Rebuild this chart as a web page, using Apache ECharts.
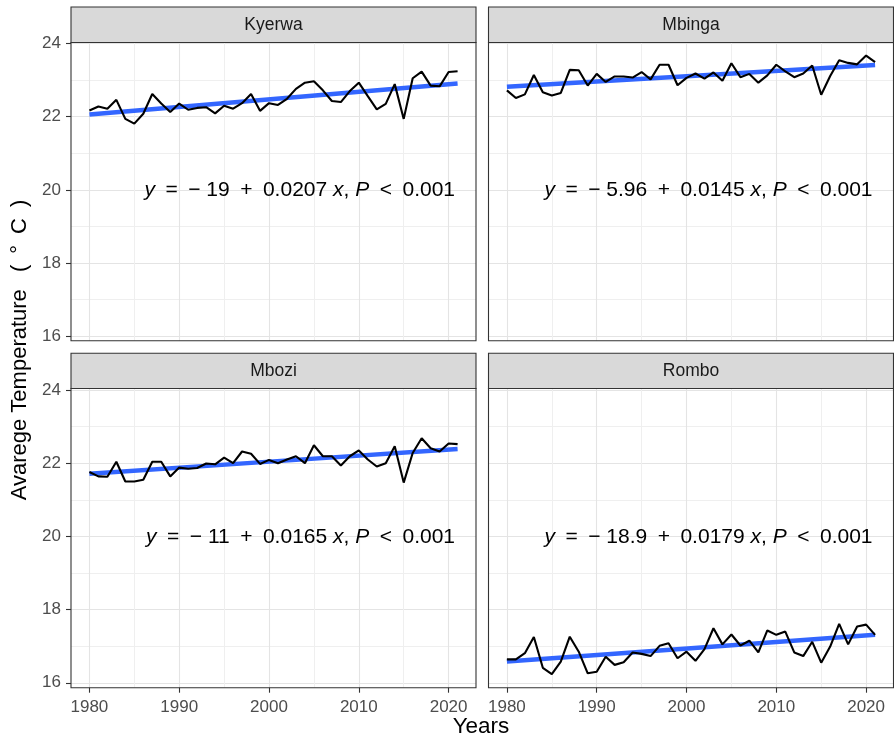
<!DOCTYPE html>
<html><head><meta charset="utf-8">
<script src="https://cdn.jsdelivr.net/npm/echarts@6/dist/echarts.min.js"></script>
<style>html,body{margin:0;padding:0;background:#fff}#c{width:894px;height:741px}</style>
</head><body><div id="c"></div>
<script>
// ---------------- data ----------------
const years = [1980,1981,1982,1983,1984,1985,1986,1987,1988,1989,1990,1991,1992,1993,1994,1995,1996,1997,1998,1999,2000,
               2001,2002,2003,2004,2005,2006,2007,2008,2009,2010,2011,2012,2013,2014,2015,2016,2017,2018,2019,2020,2021];
const sites = ['Kyerwa','Mbinga','Mbozi','Rombo'];
const kyerwa = [22.17,22.28,22.22,22.46,21.94,21.81,22.08,22.62,22.36,22.13,22.36,22.19,22.24,22.26,22.09,22.30,22.22,22.37,22.62,22.16,22.37,
                22.32,22.49,22.76,22.93,22.97,22.72,22.43,22.40,22.70,22.93,22.56,22.20,22.35,22.89,21.94,23.05,23.23,22.85,22.83,23.22,23.24];
const mbinga = [22.72,22.51,22.61,23.14,22.67,22.58,22.65,23.28,23.27,22.85,23.17,22.95,23.10,23.10,23.07,23.22,23.02,23.42,23.42,22.86,23.06,
                23.18,23.04,23.21,22.98,23.46,23.08,23.17,22.93,23.13,23.42,23.24,23.08,23.18,23.40,22.60,23.11,23.54,23.47,23.43,23.67,23.49];
const mbozi  = [21.76,21.64,21.63,22.04,21.50,21.50,21.55,22.04,22.04,21.64,21.88,21.85,21.87,21.99,21.97,22.15,22.00,22.32,22.26,21.98,22.09,
                22.00,22.10,22.19,22.00,22.49,22.19,22.19,21.94,22.19,22.35,22.10,21.91,22.00,22.46,21.47,22.28,22.68,22.41,22.32,22.54,22.52];
const rombo  = [16.64,16.64,16.81,17.25,16.41,16.24,16.58,17.26,16.85,16.26,16.30,16.71,16.49,16.56,16.83,16.79,16.73,17.01,17.08,16.67,16.85,
                16.60,16.92,17.49,17.05,17.32,17.02,17.15,16.83,17.43,17.31,17.40,16.83,16.73,17.12,16.55,16.99,17.61,17.05,17.54,17.59,17.31];
// fitted regression line and confidence band
const fitYears = [1980, 2000.5, 2021];
const kyerwaFit = [22.06, 22.485, 22.91];
const mbingaFit = [22.82, 23.115, 23.41];
const mboziFit  = [21.71, 22.05, 22.39];
const romboFit  = [16.58, 16.945, 17.31];
const kyerwaLow = [21.96, 22.45, 22.81], kyerwaHigh = [22.16, 22.52, 23.01];
const mbingaLow = [22.73, 23.08, 23.32], mbingaHigh = [22.91, 23.15, 23.50];
const mboziLow  = [21.62, 22.015, 22.30], mboziHigh  = [21.80, 22.085, 22.48];
const romboLow  = [16.46, 16.905, 17.19], romboHigh  = [16.70, 16.985, 17.43];
const intercepts = ['− 19', '− 5.96', '− 11', '− 18.9'];
const slopes = ['0.0207', '0.0145', '0.0165', '0.0179'];
const pText = '0.001';
const yTicks = [16, 18, 20, 22, 24];
const xTicks = [1980, 1990, 2000, 2010, 2020];

const obs = [kyerwa, mbinga, mbozi, rombo];
const fits = [kyerwaFit, mbingaFit, mboziFit, romboFit];
const lows = [kyerwaLow, mbingaLow, mboziLow, romboLow];
const highs = [kyerwaHigh, mbingaHigh, mboziHigh, romboHigh];

// ---------------- layout ----------------
const FONT = '"Liberation Sans", Arial, Helvetica, sans-serif';
const X_MIN = 1977.95, X_MAX = 2023.05;
const PX_PER_DEG = 36.6;
const SP = '\u2002';
const panels = [
  {left: 71,    top: 42.5,  width: 405, height: 298.2, y24: 43.5, stripTop: 7,     showY: true,  showX: false, eqY: 190},
  {left: 488.5, top: 42.5,  width: 405, height: 298.2, y24: 43.5, stripTop: 7,     showY: false, showX: false, eqY: 190},
  {left: 71,    top: 388.5, width: 405, height: 299.2, y24: 390,  stripTop: 353.3, showY: true,  showX: true,  eqY: 537},
  {left: 488.5, top: 388.5, width: 405, height: 299.2, y24: 390,  stripTop: 353.3, showY: false, showX: true,  eqY: 537}
];

const grids = [], xAxes = [], yAxes = [], series = [], graphics = [];
const gridMajor = {color: '#E4E4E4', width: 1.1};
const gridMinor = {color: '#EFEFEF', width: 1};
const tickStyle = {color: '#333333', width: 1.1};
const labelStyle = {color: '#4D4D4D', fontSize: 17, fontFamily: FONT};

panels.forEach((p, i) => {
  const yMin = yTicks[0], yMax = yTicks[yTicks.length - 1];
  grids.push({left: p.left, top: p.y24, width: p.width, height: (yMax - yMin) * PX_PER_DEG, show: false, outerBoundsMode: 'none'});
  const vx = p.left + (xTicks[0] - X_MIN) / (X_MAX - X_MIN) * p.width;
  const vw = (xTicks[xTicks.length - 1] - xTicks[0]) / (X_MAX - X_MIN) * p.width;
  grids.push({left: vx, top: p.top, width: vw, height: p.height, show: false, outerBoundsMode: 'none'});

  xAxes.push({type: 'value', gridIndex: 2 * i, min: X_MIN, max: X_MAX, show: false});
  xAxes.push({
    type: 'value', gridIndex: 2 * i + 1, min: xTicks[0], max: xTicks[xTicks.length - 1], interval: 10,
    axisLine: {show: false},
    axisTick: {show: p.showX, length: 5, lineStyle: tickStyle},
    axisLabel: {show: p.showX, margin: 11, ...labelStyle, formatter: v => String(v)},
    splitLine: {show: true, lineStyle: gridMajor},
    minorTick: {show: false, splitNumber: 2},
    minorSplitLine: {show: true, lineStyle: gridMinor}
  });
  yAxes.push({
    type: 'value', gridIndex: 2 * i, min: yMin, max: yMax, interval: 2,
    axisLine: {show: false},
    axisTick: {show: p.showY, length: 5, lineStyle: tickStyle},
    axisLabel: {show: p.showY, margin: 10, ...labelStyle},
    splitLine: {show: true, lineStyle: gridMajor},
    minorTick: {show: false, splitNumber: 2},
    minorSplitLine: {show: true, lineStyle: gridMinor}
  });
  yAxes.push({type: 'value', gridIndex: 2 * i + 1, min: 0, max: 1, show: false});

  series.push({
    type: 'line', xAxisIndex: 2 * i, yAxisIndex: 2 * i, stack: 'ci' + i, symbol: 'none', silent: true,
    data: fitYears.map((x, k) => [x, lows[i][k]]), lineStyle: {opacity: 0}, z: 2
  });
  series.push({
    type: 'line', xAxisIndex: 2 * i, yAxisIndex: 2 * i, stack: 'ci' + i, symbol: 'none', silent: true,
    data: fitYears.map((x, k) => [x, highs[i][k] - lows[i][k]]), lineStyle: {opacity: 0},
    areaStyle: {color: 'rgba(153,153,153,0.4)', opacity: 1}, z: 2
  });
  series.push({
    type: 'line', xAxisIndex: 2 * i, yAxisIndex: 2 * i, symbol: 'none', silent: true,
    data: fitYears.map((x, k) => [x, fits[i][k]]), lineStyle: {color: '#3366FF', width: 4.5}, z: 3
  });
  series.push({
    type: 'line', xAxisIndex: 2 * i, yAxisIndex: 2 * i, symbol: 'none', silent: true,
    data: years.map((y, k) => [y, obs[i][k]]), lineStyle: {color: '#000000', width: 2.1}, z: 4
  });

  graphics.push({
    type: 'rect', z: 50, shape: {x: p.left, y: p.stripTop, width: p.width, height: p.top - p.stripTop},
    style: {fill: '#D9D9D9', stroke: '#333333', lineWidth: 1.1}
  });
  graphics.push({
    type: 'text', z: 51, x: p.left + p.width / 2, y: (p.stripTop + p.top) / 2 + 0.5,
    style: {text: sites[i], fill: '#1A1A1A', font: '17.5px ' + FONT, align: 'center', verticalAlign: 'middle'}
  });
  graphics.push({
    type: 'rect', z: 50, shape: {x: p.left, y: p.top, width: p.width, height: p.height},
    style: {fill: 'none', stroke: '#333333', lineWidth: 1.1}
  });
  graphics.push({
    type: 'text', z: 51, x: p.left + p.width - 21, y: p.eqY,
    style: {
      text: '{i|y}' + SP + '=' + SP + intercepts[i] + SP + '+' + SP + slopes[i] + ' {i|x}, {i|P}' + SP + '<' + SP + pText,
      fill: '#000000', font: '21px ' + FONT, align: 'right', verticalAlign: 'middle',
      rich: {i: {font: 'italic 21px ' + FONT, fill: '#000000'}}
    }
  });
});

graphics.push({
  type: 'text', z: 51, x: 20, y: 350, rotation: Math.PI / 2,
  style: {text: 'Avarege Temperature ' + SP + '(' + SP + '°' + SP + 'C' + SP + ')', fill: '#000000', font: '22px ' + FONT, align: 'center', verticalAlign: 'middle'}
});
graphics.push({
  type: 'text', z: 51, x: 481, y: 727,
  style: {text: 'Years', fill: '#000000', font: '22.5px ' + FONT, align: 'center', verticalAlign: 'middle'}
});

const chart = echarts.init(document.getElementById('c'), null, {renderer: 'canvas'});
chart.setOption({
  animation: false,
  backgroundColor: '#ffffff',
  grid: grids,
  xAxis: xAxes,
  yAxis: yAxes,
  series: series,
  graphic: graphics
});
</script>
</body></html>
